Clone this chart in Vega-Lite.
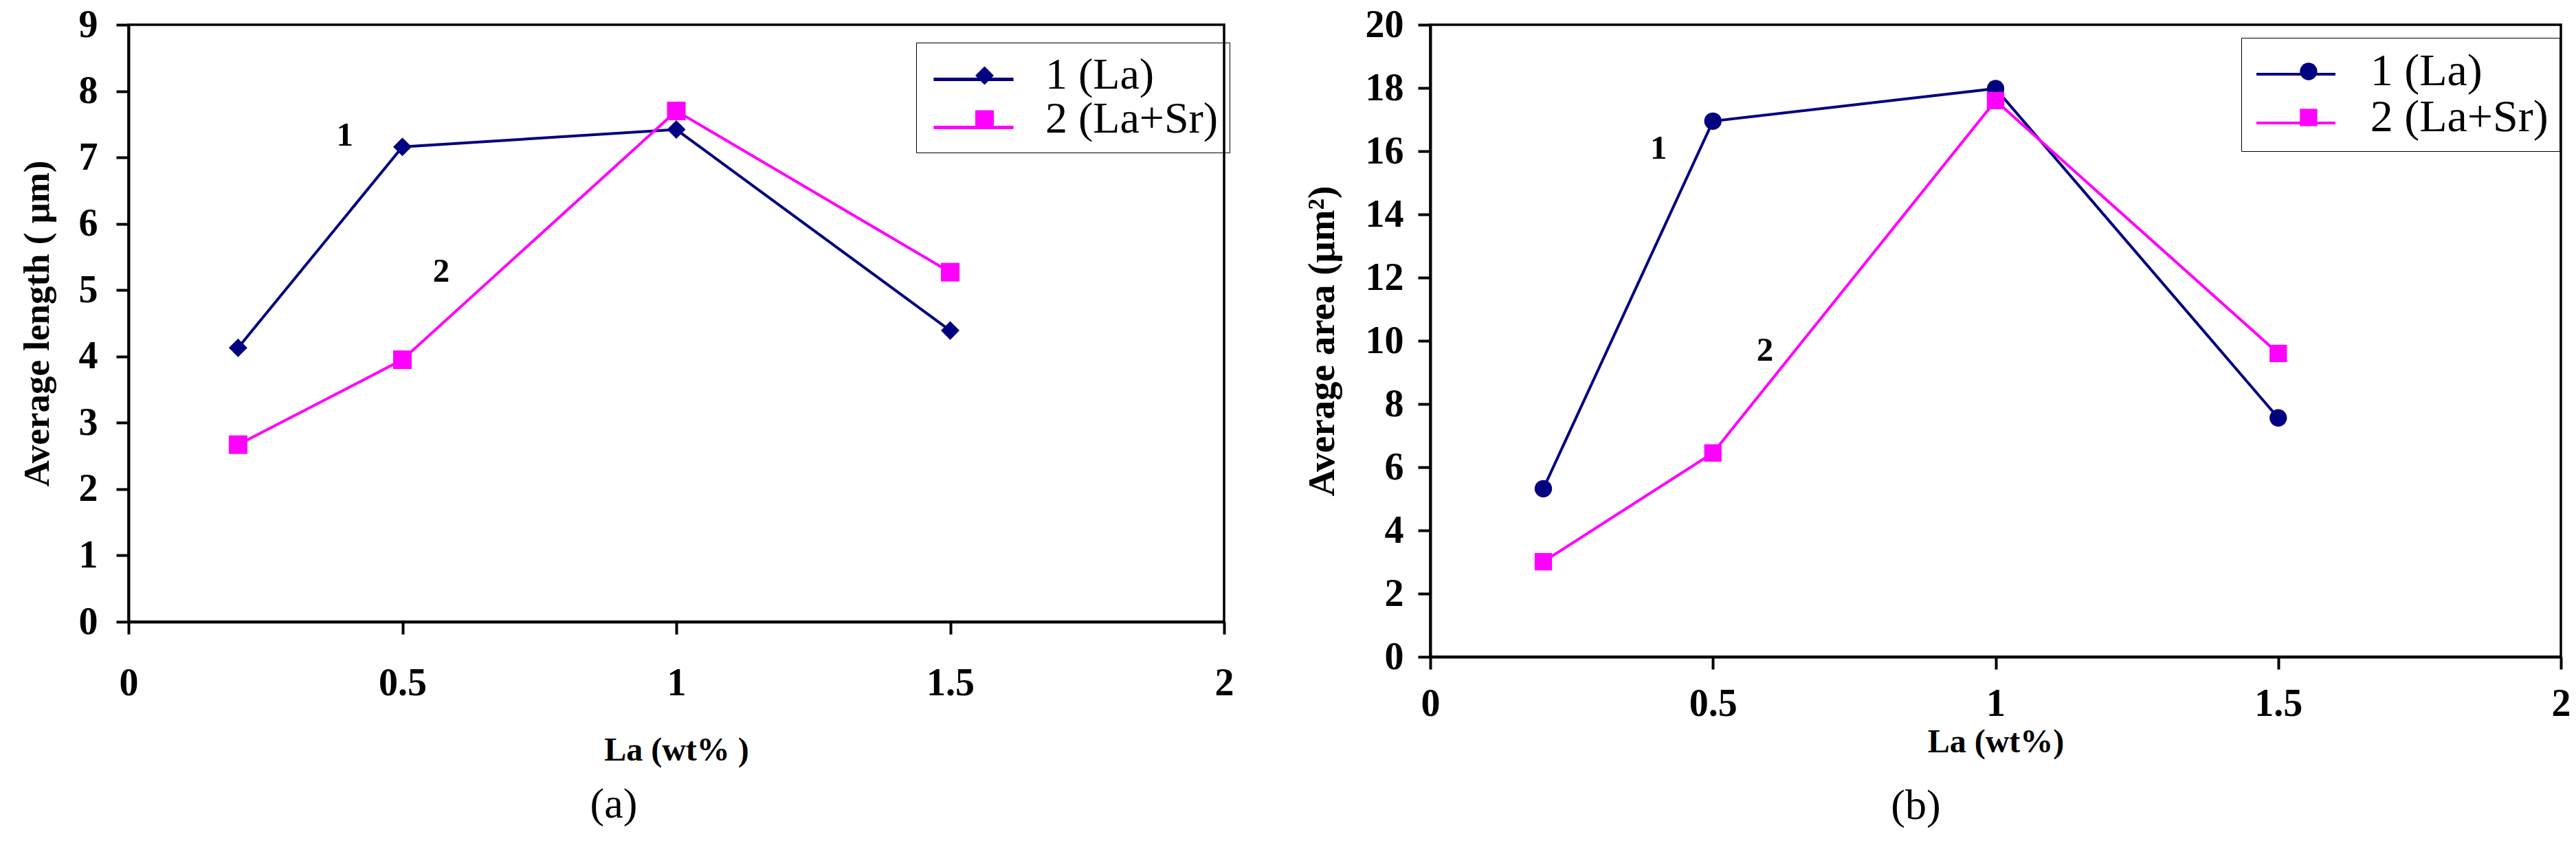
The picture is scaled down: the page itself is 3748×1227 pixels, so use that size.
{
  "$schema": "https://vega.github.io/schema/vega-lite/v6.json",
  "background": "white",
  "padding": {"left": 26, "top": 6, "right": 10, "bottom": 6},
  "spacing": 97,
  "config": {
    "font": "Liberation Serif",
    "view": {"stroke": "black", "strokeWidth": 3.5},
    "axis": {
      "grid": false,
      "labelFont": "Liberation Serif",
      "labelFontWeight": "bold",
      "labelFontSize": 56,
      "labelColor": "black",
      "labelFlush": false,
      "titleFont": "Liberation Serif",
      "titleFontWeight": "bold",
      "titleFontSize": 48,
      "titleColor": "black",
      "domainColor": "black",
      "domainWidth": 4,
      "tickColor": "black",
      "tickWidth": 4,
      "tickSize": 18
    },
    "title": {"font": "Liberation Serif", "fontWeight": "normal", "fontSize": 62, "color": "black"}
  },
  "resolve": {
    "scale": {"stroke": "independent", "fill": "independent", "shape": "independent"},
    "legend": {"stroke": "independent", "fill": "independent", "shape": "independent"}
  },
  "datasets": {
    "length": [
      {"la": 0.2, "value": 4.13, "series": "1 (La)"},
      {"la": 0.5, "value": 7.16, "series": "1 (La)"},
      {"la": 1.0, "value": 7.42, "series": "1 (La)"},
      {"la": 1.5, "value": 4.39, "series": "1 (La)"},
      {"la": 0.2, "value": 2.67, "series": "2 (La+Sr)"},
      {"la": 0.5, "value": 3.95, "series": "2 (La+Sr)"},
      {"la": 1.0, "value": 7.70, "series": "2 (La+Sr)"},
      {"la": 1.5, "value": 5.27, "series": "2 (La+Sr)"}
    ],
    "area": [
      {"la": 0.2, "value": 5.32, "series": "1 (La)"},
      {"la": 0.5, "value": 16.95, "series": "1 (La)"},
      {"la": 1.0, "value": 17.98, "series": "1 (La)"},
      {"la": 1.5, "value": 7.56, "series": "1 (La)"},
      {"la": 0.2, "value": 3.01, "series": "2 (La+Sr)"},
      {"la": 0.5, "value": 6.45, "series": "2 (La+Sr)"},
      {"la": 1.0, "value": 17.6, "series": "2 (La+Sr)"},
      {"la": 1.5, "value": 9.6, "series": "2 (La+Sr)"}
    ],
    "labelsA": [
      {"la": 0.395, "value": 7.33, "text": "1"},
      {"la": 0.571, "value": 5.28, "text": "2"}
    ],
    "labelsB": [
      {"la": 0.404, "value": 16.09, "text": "1"},
      {"la": 0.592, "value": 9.7, "text": "2"}
    ]
  },
  "hconcat": [
    {
      "width": 1594,
      "height": 869,
      "title": {"text": "(a)", "orient": "bottom", "dx": -91, "offset": 25},
      "data": {"name": "length"},
      "encoding": {
        "x": {
          "field": "la", "type": "quantitative",
          "scale": {"domain": [0, 2], "nice": false},
          "axis": {"values": [0, 0.5, 1, 1.5, 2], "format": "~g", "title": "La (wt% )", "labelPadding": 44, "titlePadding": 46}
        },
        "y": {
          "field": "value", "type": "quantitative",
          "scale": {"domain": [0, 9], "nice": false},
          "axis": {"values": [0, 1, 2, 3, 4, 5, 6, 7, 8, 9], "title": "Average length ( μm)", "titleFontSize": 53, "labelPadding": 27, "titlePadding": 33}
        }
      },
      "layer": [
        {
          "mark": {"type": "line", "strokeWidth": 4},
          "encoding": {
            "stroke": {
              "field": "series", "type": "nominal",
              "scale": {"domain": ["1 (La)", "2 (La+Sr)"], "range": ["#000080", "#ff00ff"]},
              "legend": {
                "orient": "none", "legendX": 1192, "legendY": 42,
                "title": null, "symbolType": "M-1.66,0H1.66", "symbolSize": 4900, "symbolStrokeWidth": 5,
                "labelFont": "Liberation Serif", "labelFontSize": 64, "labelExpr": "' '",
                "labelLimit": 0, "labelOffset": 0, "rowPadding": 0, "padding": 0
              }
            }
          }
        },
        {
          "mark": {"type": "point", "filled": true, "opacity": 1, "size": 730},
          "encoding": {
            "fill": {
              "field": "series", "type": "nominal",
              "scale": {"range": ["#000080", "#ff00ff"]},
              "legend": {
                "orient": "none", "legendX": 1146, "legendY": 26, "title": null,
                "labelFont": "Liberation Serif", "labelFontWeight": "normal", "labelFontSize": 64, "labelColor": "black",
                "labelLimit": 0, "labelOffset": 56.5, "symbolOffset": 51.5,
                "rowPadding": 0, "padding": 16, "symbolSize": 730, "symbolOpacity": 1,
                "strokeColor": "black", "cornerRadius": 0
              }
            },
            "shape": {
              "field": "series", "type": "nominal",
              "scale": {"range": ["diamond", "square"]},
              "legend": {
                "orient": "none", "legendX": 1146, "legendY": 26, "title": null,
                "labelFont": "Liberation Serif", "labelFontWeight": "normal", "labelFontSize": 64, "labelColor": "black",
                "labelLimit": 0, "labelOffset": 56.5, "symbolOffset": 51.5,
                "rowPadding": 0, "padding": 16, "symbolSize": 730, "symbolOpacity": 1,
                "strokeColor": "black", "cornerRadius": 0
              }
            }
          }
        },
        {
          "data": {"name": "labelsA"},
          "mark": {"type": "text", "font": "Liberation Serif", "fontWeight": "bold", "fontSize": 49, "color": "black"},
          "encoding": {"text": {"field": "text", "type": "nominal"}}
        }
      ]
    },
    {
      "width": 1645,
      "height": 920,
      "title": {"text": "(b)", "orient": "bottom", "dx": -116, "offset": 39},
      "data": {"name": "area"},
      "encoding": {
        "x": {
          "field": "la", "type": "quantitative",
          "scale": {"domain": [0, 2], "nice": false},
          "axis": {"values": [0, 0.5, 1, 1.5, 2], "format": "~g", "title": "La (wt%)", "labelPadding": 23, "titlePadding": 4}
        },
        "y": {
          "field": "value", "type": "quantitative",
          "scale": {"domain": [0, 20], "nice": false},
          "axis": {"values": [0, 2, 4, 6, 8, 10, 12, 14, 16, 18, 20], "title": "Average area  (μm²)", "titleFontSize": 55, "labelPadding": 21, "titlePadding": 34}
        }
      },
      "layer": [
        {
          "mark": {"type": "line", "strokeWidth": 4},
          "encoding": {
            "stroke": {
              "field": "series", "type": "nominal",
              "scale": {"domain": ["1 (La)", "2 (La+Sr)"], "range": ["#000080", "#ff00ff"]},
              "legend": {
                "orient": "none", "legendX": 1222.5, "legendY": 35,
                "title": null, "symbolType": "M-1.643,0H1.643", "symbolSize": 4900, "symbolStrokeWidth": 4,
                "labelFont": "Liberation Serif", "labelFontSize": 66, "labelExpr": "' '",
                "labelLimit": 0, "labelOffset": 0, "rowPadding": 1, "padding": 0
              }
            }
          }
        },
        {
          "mark": {"type": "point", "filled": true, "opacity": 1, "size": 640},
          "encoding": {
            "fill": {
              "field": "series", "type": "nominal",
              "scale": {"range": ["#000080", "#ff00ff"]},
              "legend": {
                "orient": "none", "legendX": 1180, "legendY": 19, "title": null,
                "labelFont": "Liberation Serif", "labelFontWeight": "normal", "labelFontSize": 66, "labelColor": "black",
                "labelLimit": 0, "labelOffset": 56.8, "symbolOffset": 48.9,
                "rowPadding": 1, "padding": 16, "symbolSize": 640, "symbolOpacity": 1,
                "strokeColor": "black", "cornerRadius": 0
              }
            },
            "shape": {
              "field": "series", "type": "nominal",
              "scale": {"range": ["circle", "square"]},
              "legend": {
                "orient": "none", "legendX": 1180, "legendY": 19, "title": null,
                "labelFont": "Liberation Serif", "labelFontWeight": "normal", "labelFontSize": 66, "labelColor": "black",
                "labelLimit": 0, "labelOffset": 56.8, "symbolOffset": 48.9,
                "rowPadding": 1, "padding": 16, "symbolSize": 640, "symbolOpacity": 1,
                "strokeColor": "black", "cornerRadius": 0
              }
            }
          }
        },
        {
          "data": {"name": "labelsB"},
          "mark": {"type": "text", "font": "Liberation Serif", "fontWeight": "bold", "fontSize": 49, "color": "black"},
          "encoding": {"text": {"field": "text", "type": "nominal"}}
        }
      ]
    }
  ]
}
